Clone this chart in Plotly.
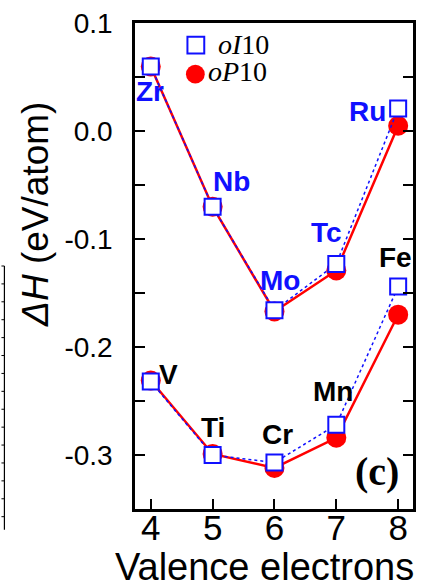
import plotly.graph_objects as go

# Valence electron count on the x axis
valence = [4, 5, 6, 7, 8]

# 4d transition metals (upper curve)
elements_4d = ["Zr", "Nb", "Mo", "Tc", "Ru"]
oI10_4d = [0.060, -0.070, -0.166, -0.123, 0.021]
oP10_4d = [0.060, -0.070, -0.167, -0.129, 0.005]

# 3d transition metals (lower curve)
elements_3d = ["V", "Ti", "Cr", "Mn", "Fe"]
oI10_3d = [-0.232, -0.300, -0.307, -0.272, -0.144]
oP10_3d = [-0.231, -0.299, -0.312, -0.284, -0.170]

y_tickvals = [0.1, 0.0, -0.1, -0.2, -0.3]
y_ticktext = ["0.1", "0.0", "-0.1", "-0.2", "-0.3"]

RED = "#ff0000"
BLUE = "#1010ff"
SANS = "Liberation Sans, Arial, sans-serif"
SERIF = "Liberation Serif, Times New Roman, serif"

fig = go.Figure()

for ys in (oP10_4d, oP10_3d):
    fig.add_trace(go.Scatter(
        x=valence, y=ys, mode="lines+markers",
        line=dict(color=RED, width=2.5),
        marker=dict(symbol="circle", size=20, color=RED),
        showlegend=False, hoverinfo="skip", cliponaxis=False))

for ys in (oI10_4d, oI10_3d):
    fig.add_trace(go.Scatter(
        x=valence, y=ys, mode="lines+markers",
        line=dict(color=BLUE, width=1.5, dash="dot"),
        marker=dict(symbol="square", size=16, color="white",
                    line=dict(color=BLUE, width=2)),
        showlegend=False, hoverinfo="skip", cliponaxis=False))

# element labels: (name, anchor series, index, pixel offset, colour)
label_specs = [
    (elements_4d[0], oI10_4d, 0, -1, 25, BLUE),
    (elements_4d[1], oI10_4d, 1, 19, -25, BLUE),
    (elements_4d[2], oI10_4d, 2, 6, -30, BLUE),
    (elements_4d[3], oI10_4d, 3, -10, -31, BLUE),
    (elements_4d[4], oI10_4d, 4, -31, 3, BLUE),
    (elements_3d[0], oI10_3d, 0, 18, -7, "black"),
    (elements_3d[1], oI10_3d, 1, 0, -28, "black"),
    (elements_3d[2], oI10_3d, 2, 3, -28, "black"),
    (elements_3d[3], oI10_3d, 3, -3, -33, "black"),
    (elements_3d[4], oI10_3d, 4, -3, -29, "black"),
]
annotations = []
for name, series, i, dx, dy, col in label_specs:
    annotations.append(dict(
        x=valence[i], y=series[i], xref="x", yref="y", text=f"<b>{name}</b>",
        showarrow=False, xshift=dx, yshift=-dy,
        xanchor="center", yanchor="middle",
        font=dict(family=SANS, size=28, color=col)))

# plot area in pixels, used for paper-coordinate placement
L, R, T, B = 135, 416, 15, 509
W, H = R - L, B - T


def px(x):
    return (x - L) / W


def py(y):
    return (B - y) / H


def note(x, y, text, font, xanchor="center", **kw):
    return dict(x=px(x), y=py(y), xref="paper", yref="paper", text=text,
                showarrow=False, xanchor=xanchor, yanchor="middle",
                font=font, **kw)


annotations += [
    note(35, 210, "<i>ΔH</i> (eV/atom)",
         dict(family=SANS, size=37, color="black"), textangle=-90),
    note(266, 568, "Valence electrons",
         dict(family=SANS, size=38, color="black")),
    note(380, 471, "<b>(c)</b>", dict(family=SERIF, size=40, color="black")),
    note(217, 37, "<i>oI</i>10", dict(family=SERIF, size=28, color="black"),
         xanchor="left"),
    note(207, 64, "<i>oP</i>10", dict(family=SERIF, size=28, color="black"),
         xanchor="left"),
]

shapes = [
    # legend keys
    dict(type="rect", xref="paper", yref="paper",
         x0=px(188), x1=px(205), y0=py(46), y1=py(29),
         line=dict(color=BLUE, width=2), fillcolor="white"),
    dict(type="circle", xref="paper", yref="paper",
         x0=px(186.5), x1=px(205.5), y0=py(76.5), y1=py(57.5),
         line=dict(color=RED, width=0), fillcolor=RED),
    # edge of the neighbouring panel
    dict(type="line", xref="paper", yref="paper",
         x0=px(3), x1=px(3), y0=py(262), y1=py(530),
         line=dict(color="black", width=1.2)),
]
for k in range(15):
    yy = 262 + k * 18.2
    shapes.append(dict(type="line", xref="paper", yref="paper",
                       x0=px(0), x1=px(3), y0=py(yy), y1=py(yy),
                       line=dict(color="black", width=1)))

fig.update_layout(
    width=424, height=588,
    margin=dict(l=L, r=424 - R, t=T, b=588 - B),
    paper_bgcolor="white", plot_bgcolor="white",
    showlegend=False,
    annotations=annotations,
    shapes=shapes,
    xaxis=dict(
        range=[3.745, 8.24], tickvals=valence, ticktext=[str(v) for v in valence],
        ticks="inside", ticklen=10, tickwidth=2, tickcolor="black",
        showline=True, linecolor="black", linewidth=2.5, mirror=True,
        showgrid=False, zeroline=False, ticklabelstandoff=-14,
        tickfont=dict(family=SANS, size=35, color="black")),
    yaxis=dict(
        range=[-0.35, 0.1002], tickvals=y_tickvals, ticktext=y_ticktext,
        ticks="inside", ticklen=10, tickwidth=2, tickcolor="black",
        minor=dict(dtick=0.05, tick0=0, ticks="inside", ticklen=10,
                   tickwidth=2, tickcolor="black"),
        showline=True, linecolor="black", linewidth=2.5, mirror="allticks",
        showgrid=False, zeroline=False, ticklabelstandoff=14,
        tickfont=dict(family=SANS, size=28, color="black")),
)

fig.write_html("out.html")
